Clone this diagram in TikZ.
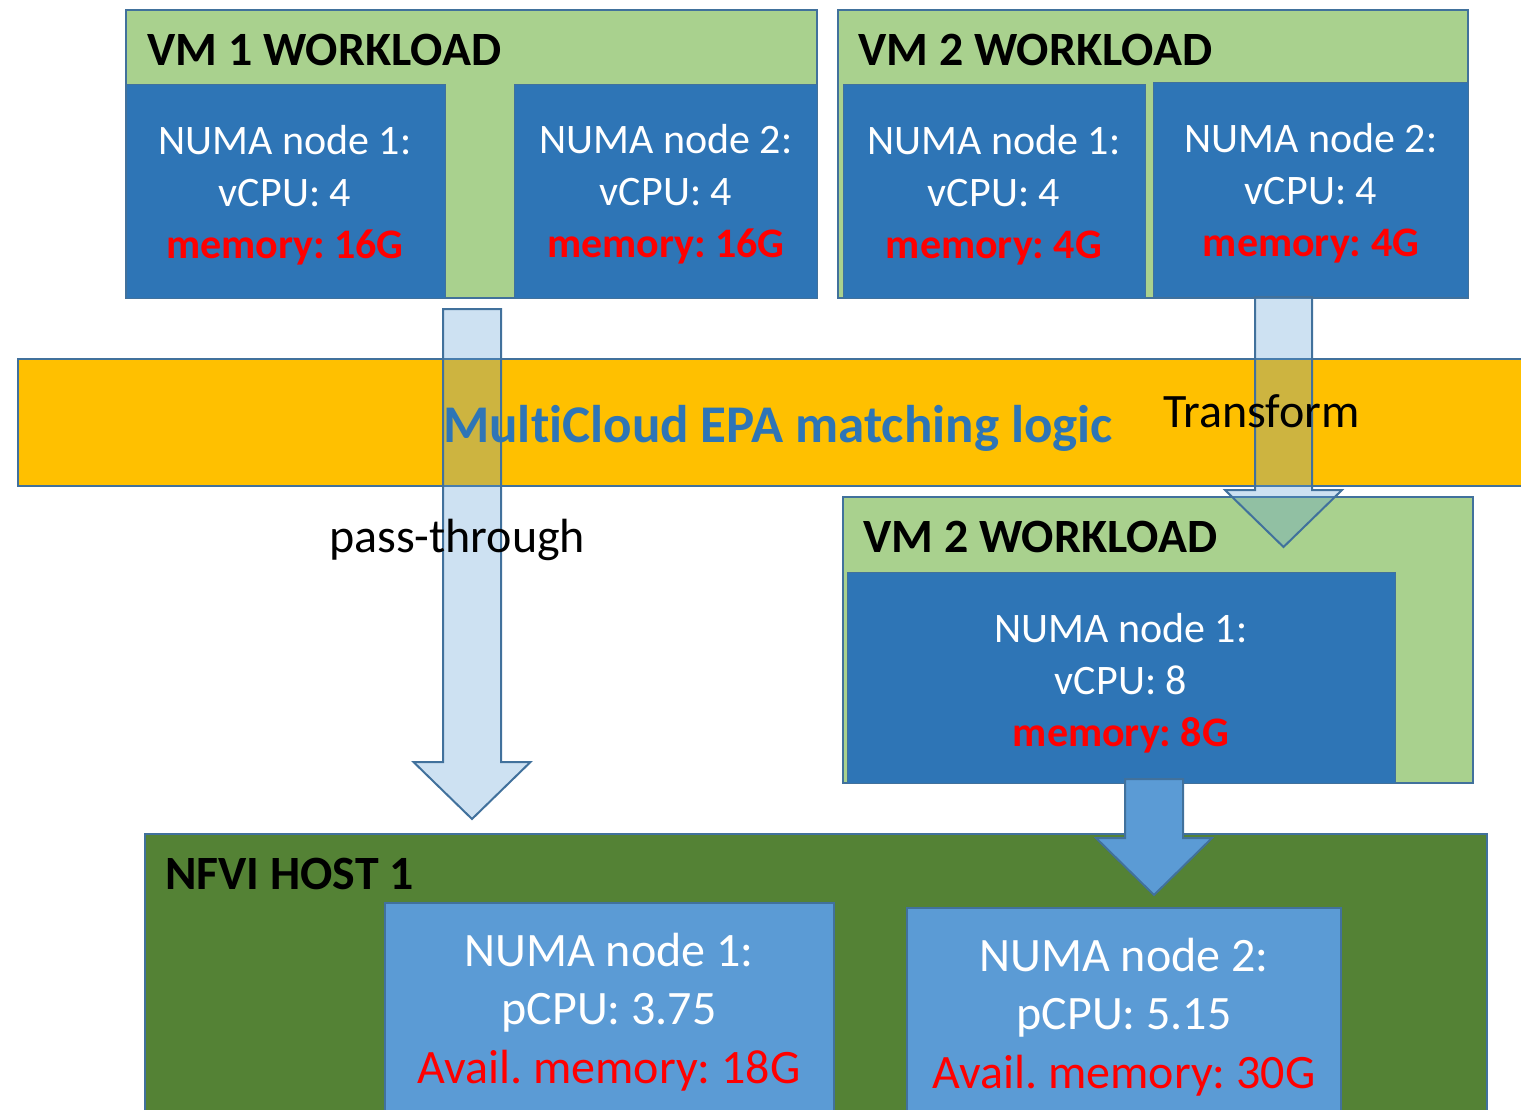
\documentclass[tikz,border=0pt]{standalone}
\usepackage{fontspec}
\setmainfont{Carlito}[Ligatures={NoCommon}, RawFeature={-liga;-dlig;-clig}]
\frenchspacing
\definecolor{vmgreen}{HTML}{A9D18E}
\definecolor{numablue}{HTML}{2E75B6}
\definecolor{edgeblue}{HTML}{41719C}
\definecolor{bandorange}{HTML}{FFC000}
\definecolor{hostblue}{HTML}{5B9BD5}
\definecolor{hostgreen}{HTML}{548235}
\definecolor{memred}{HTML}{FF0000}
\tikzset{
  panel/.style={draw=edgeblue, line width=2pt, inner sep=0pt, outer sep=0pt},
  wlbox/.style={panel, fill=vmgreen},
  vnuma/.style={panel, line width=1pt, fill=numablue},
  hostbox/.style={panel, fill=hostgreen},
  pnuma/.style={panel, fill=hostblue},
  title/.style={anchor=west, inner sep=0pt, font=\fontsize{47.8}{56}\selectfont\bfseries},
  vtext/.style={align=center, inner sep=0pt, text=white, font=\fontsize{42}{52}\selectfont},
  ptext/.style={align=center, inner sep=0pt, text=white, font=\fontsize{48}{58.5}\selectfont},
  glass/.style={draw=edgeblue, line width=2pt, fill=hostblue, fill opacity=0.3, line join=miter},
  solidarrow/.style={draw=edgeblue, line width=2pt, fill=hostblue, line join=miter},
  label/.style={anchor=base west, inner sep=0pt, font=\fontsize{48}{58}\selectfont}
}
\newcommand\vmem[1]{{\bfseries\color{memred}#1}}
\newcommand\pmem[1]{{\color{memred}#1}}
\begin{document}
\begin{tikzpicture}[x=1pt, y=-1pt]
\useasboundingbox (0,0) rectangle (1521,1110);
\clip (0,0) rectangle (1521,1110);

% VM 1 workload with its two NUMA nodes
\node[wlbox, minimum width=691, minimum height=288] (vm1) at (471.5,154) {};
\node[vnuma, minimum width=319, minimum height=213] (vm1n1) at (285.5,191.5) {};
\node[vnuma, minimum width=303, minimum height=213] (vm1n2) at (665.5,191.5) {};
\node[title] (vm1t) at (147,50) {VM 1 WORKLOAD};
\node[vtext] (vm1n1t) at (285,195) {NUMA node 1:\\vCPU: 4\\\vmem{memory: 16G}};
\node[vtext] (vm1n2t) at (666,194) {NUMA node 2:\\vCPU: 4\\\vmem{memory: 16G}};

% VM 2 workload as requested
\node[wlbox, minimum width=630, minimum height=288] (vm2) at (1153,154) {};
\node[vnuma, minimum width=302, minimum height=213] (vm2n1) at (994,191.5) {};
\node[vnuma, minimum width=315, minimum height=214] (vm2n2) at (1310.5,190) {};
\node[title] (vm2t) at (858,50) {VM 2 WORKLOAD};
\node[vtext] (vm2n1t) at (994,195) {NUMA node 1:\\vCPU: 4\\\vmem{memory: 4G}};
\node[vtext] (vm2n2t) at (1311,193) {NUMA node 2:\\vCPU: 4\\\vmem{memory: 4G}};

% matching logic band
\node[panel, fill=bandorange, minimum width=1512, minimum height=127] (band) at (774,422.5) {};

% VM 2 workload after transformation
\node[wlbox, minimum width=630, minimum height=286] (vm2b) at (1158,640) {};
\node[vnuma, minimum width=548, minimum height=211] (vm2bn) at (1121,677.5) {};
\node[title] (vm2bt) at (863,537) {VM 2 WORKLOAD};
\node[vtext] (vm2bnt) at (1121,683) {NUMA node 1:\\vCPU: 8\\\vmem{memory: 8G}};

% pass-through arrow
\draw[glass] (443,309) -- (501,309) -- (501,762) -- (530.5,762) -- (472,819)
  -- (413.5,762) -- (443,762) -- cycle;
% transform arrow
\draw[glass] (1255,297) -- (1312,297) -- (1312,490) -- (1342,490) -- (1283.5,547)
  -- (1225,490) -- (1255,490) -- cycle;

\node[label, text=numablue, font=\fontsize{53}{64}\selectfont\bfseries] (logic) at (443,442) {Mult\kern0pt iCloud EPA matching logic};
\node[label] (tf) at (1163,427) {Transform};
\node[label] (pt) at (329,552) {pass-through};

% NFVI host
\node[hostbox, minimum width=1342, minimum height=296] (host) at (816,982) {};
\node[title] (hostt) at (165,874) {NFVI HOST 1};
\node[pnuma, minimum width=449, minimum height=227] (hn1) at (609.5,1016.5) {};
\node[pnuma, minimum width=434, minimum height=222] (hn2) at (1124,1019) {};
\node[ptext] (hn1t) at (609,1012) {NUMA node 1:\\pCPU: 3.75\\\pmem{Avail. memory: 18G}};
\node[ptext] (hn2t) at (1124,1017) {NUMA node 2:\\pCPU: 5.15\\\pmem{Avail. memory: 30G}};

% placement arrow onto the host
\draw[solidarrow] (1125,779) -- (1183,779) -- (1183,838) -- (1212,838) -- (1154,895)
  -- (1096,838) -- (1125,838) -- cycle;
\end{tikzpicture}
\end{document}
